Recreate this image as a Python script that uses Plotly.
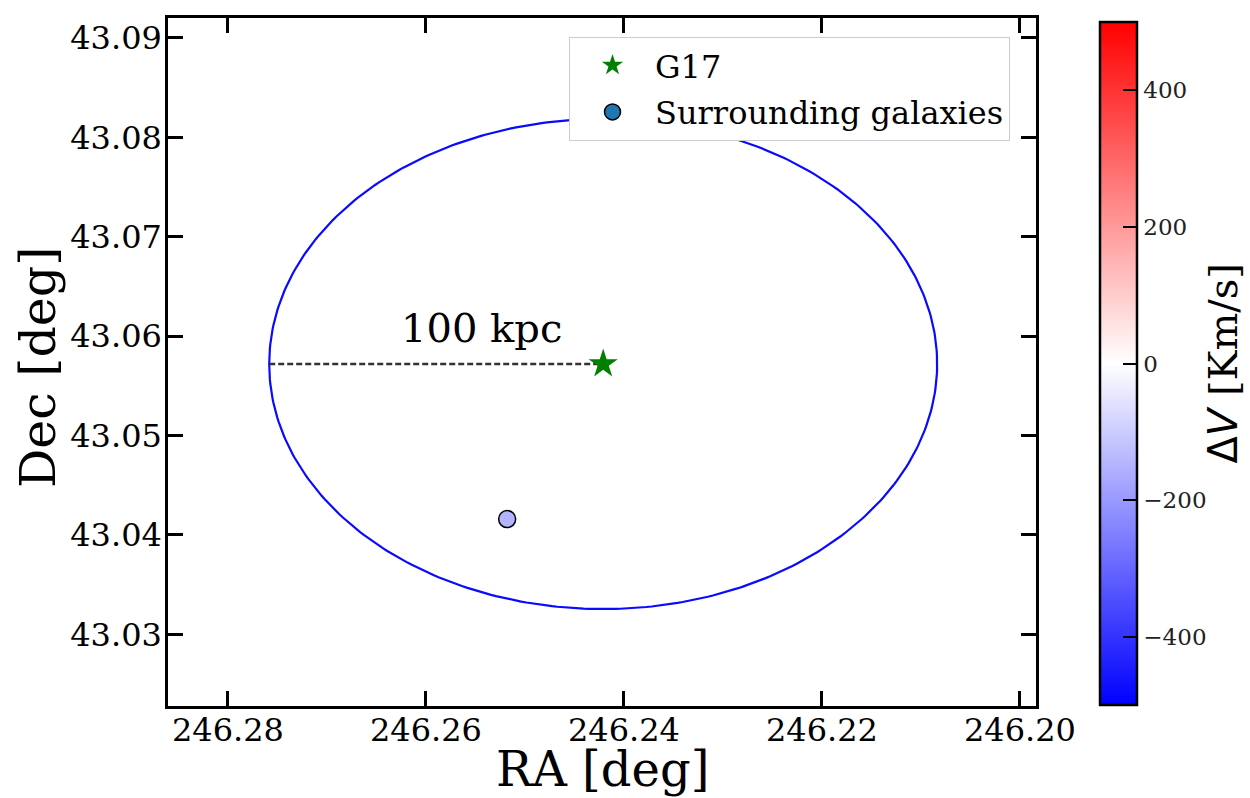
import numpy as np
import plotly.graph_objects as go

# Data
g17_ra = [246.2421]
g17_dec = [43.0572]
gal_ra = [246.2518]
gal_dec = [43.0416]
gal_dv = [-150]
radius_dec_deg = 0.02465  # 100 kpc in degrees
x_ticks = [246.28, 246.26, 246.24, 246.22, 246.20]
y_ticks = [43.03, 43.04, 43.05, 43.06, 43.07, 43.08, 43.09]
cb_ticks = [-400, -200, 0, 200, 400]

SERIF = "DejaVu Serif"

ra0, dec0 = g17_ra[0], g17_dec[0]
ra_rad = radius_dec_deg / np.cos(np.deg2rad(dec0))
t = np.linspace(0, 2 * np.pi, 400)
ell_x = ra0 + ra_rad * np.cos(t)
ell_y = dec0 + radius_dec_deg * np.sin(t)

bwr = [[0, "rgb(0,0,255)"], [0.5, "rgb(255,255,255)"], [1, "rgb(255,0,0)"]]

fig = go.Figure()
fig.add_trace(go.Scatter(x=ell_x, y=ell_y, mode="lines",
                         line=dict(color="rgb(10,10,255)", width=2.2), showlegend=False, hoverinfo="skip"))
fig.add_trace(go.Scatter(x=[ra0 + ra_rad, ra0], y=[dec0, dec0], mode="lines",
                         line=dict(color="rgb(50,50,50)", width=2.4, dash="6px,3px"), showlegend=False))
fig.add_trace(go.Scatter(x=g17_ra, y=g17_dec, mode="markers", name="G17", legendgroup="a",
                         marker=dict(symbol="star", size=22, color="green", line=dict(width=0))))
fig.add_trace(go.Scatter(x=gal_ra, y=gal_dec, mode="markers", showlegend=False,
                         marker=dict(size=17, color=gal_dv, colorscale=bwr, cmin=-500, cmax=500,
                                     line=dict(color="black", width=1.5),
                                     colorbar=dict(
                                         x=1.0622, xanchor="left", xref="paper",
                                         y=0.4978, yanchor="middle",
                                         thickness=37, thicknessmode="pixels",
                                         len=703, lenmode="pixels",
                                         outlinecolor="black", outlinewidth=2.5,
                                         tickvals=cb_ticks, ticks="inside", ticklen=15, tickwidth=2,
                                         tickcolor="black",
                                         tickfont=dict(family=SERIF, size=23, color="#222"),
                                         title=dict(text=""),
                                     ))))
fig.add_trace(go.Scatter(x=[None], y=[None], mode="markers", name="Surrounding galaxies", legendgroup="b",
                         marker=dict(size=17, color="#1f77b4", line=dict(color="black", width=1.5))))

fig.add_annotation(x=246.2544, y=43.0608, text="100 kpc", showarrow=False,
                   font=dict(family=SERIF, size=40, color="black"))

# axis titles as annotations (exact placement)
fig.add_annotation(x=0.5, y=(706 - 769) / 688, xref="paper", yref="paper", showarrow=False,
                   xanchor="center", yanchor="middle", text="RA [deg]",
                   font=dict(family=SERIF, size=48, color="black"))
fig.add_annotation(x=(38 - 168) / 868, y=(706 - 368) / 688, xref="paper", yref="paper", showarrow=False,
                   xanchor="center", yanchor="middle", textangle=-90, text="Dec [deg]",
                   font=dict(family=SERIF, size=49, color="black"))

# colorbar title as rotated annotation
fig.add_annotation(x=(1223 - 168) / 868, y=0.4978, xref="paper", yref="paper", showarrow=False,
                   textangle=-90, xanchor="center", yanchor="middle",
                   text="<span style='font-family:DejaVu Sans'>Δ<i>V</i></span> [Km/s]",
                   font=dict(family=SERIF, size=40, color="black"))

axis_common = dict(showgrid=False, zeroline=False, showline=True, linecolor="black", linewidth=2.5,
                   mirror="ticks", ticks="inside", ticklen=15, tickwidth=2.5, tickcolor="black",
                   automargin=False,
                   tickfont=dict(family=SERIF, size=32, color="black"))
fig.update_xaxes(range=[246.28606, 246.19838], tickvals=x_ticks,
                 ticktext=[f"{v:.2f}" for v in x_ticks], ticklabelstandoff=-6,
                 **axis_common)
fig.update_yaxes(range=[43.0228, 43.092], tickvals=y_ticks,
                 ticktext=[f"{v:.2f}" for v in y_ticks], ticklabelstandoff=-3,
                 **axis_common)

fig.update_layout(width=1250, height=798, margin=dict(l=168, r=214, t=18, b=92),
                  paper_bgcolor="white", plot_bgcolor="white",
                  legend=dict(x=0.462, y=0.9724, xanchor="left", yanchor="top",
                              bgcolor="white", bordercolor="#cccccc", borderwidth=1,
                              font=dict(family=SERIF, size=32, color="black"),
                              tracegroupgap=2, itemwidth=75,
                              itemsizing="trace"))

fig.write_html("out.html")
